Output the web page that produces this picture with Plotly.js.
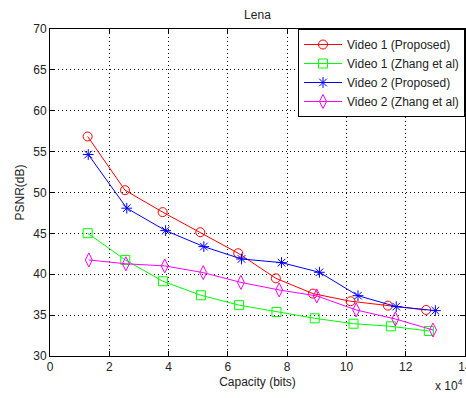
<!DOCTYPE html>
<html>
<head>
<meta charset="utf-8">
<script src="https://cdn.plot.ly/plotly-3.0.1.min.js"></script>
<style>html,body{margin:0;padding:0;background:#fff;}#chart{width:466px;height:398px;}</style>
</head>
<body>
<div id="chart"></div>
<script>
// Capacity in units of 10^4 bits, PSNR in dB
const v1PropX = [1.27, 2.53, 3.80, 5.07, 6.35, 7.62, 8.87, 10.14, 11.40, 12.69];
const v1PropY = [56.85, 50.28, 47.6, 45.14, 42.57, 39.5, 37.63, 36.7, 36.16, 35.63];
const v1ZhangX = [1.27, 2.54, 3.81, 5.09, 6.38, 7.64, 8.93, 10.24, 11.50, 12.78];
const v1ZhangY = [45.02, 41.75, 39.14, 37.43, 36.22, 35.38, 34.61, 33.95, 33.63, 33.06];
const v2PropX = [1.29, 2.59, 3.90, 5.19, 6.46, 7.81, 9.09, 10.39, 11.68, 13.00];
const v2PropY = [54.65, 48.08, 45.34, 43.38, 41.87, 41.42, 40.24, 37.38, 36.04, 35.55];
const v2ZhangX = [1.31, 2.56, 3.87, 5.17, 6.44, 7.73, 9.00, 10.33, 11.65, 12.92];
const v2ZhangY = [41.75, 41.28, 41.02, 40.2, 39.0, 38.08, 37.35, 35.63, 34.53, 33.18];
const seriesNames = ['Video 1 (Proposed)', 'Video 1 (Zhang et al)', 'Video 2 (Proposed)', 'Video 2 (Zhang et al)'];
const xTicks = [0, 2, 4, 6, 8, 10, 12, 14];
const yTicks = [30, 35, 40, 45, 50, 55, 60, 65, 70];

const font = 'Liberation Sans, Arial, sans-serif';
function tr(x, y, name, color, symbol, size) {
  return {
    x: x, y: y, name: name, type: 'scatter', mode: 'lines+markers',
    line: {color: color, width: 1},
    marker: {symbol: symbol, size: size, color: color, line: {color: color, width: 1}}
  };
}
const data = [
  tr(v1PropX, v1PropY, seriesNames[0], '#ff0000', 'circle-open', 9),
  tr(v1ZhangX, v1ZhangY, seriesNames[1], '#00ff00', 'square-open', 9),
  tr(v2PropX, v2PropY, seriesNames[2], '#0000ff', 'asterisk-open', 9),
  tr(v2ZhangX, v2ZhangY, seriesNames[3], '#ff00ff', 'diamond-tall-open', 10)
];
const axisCommon = {
  showline: true, linecolor: '#000', linewidth: 1, mirror: 'ticks',
  ticks: 'inside', ticklen: 5, tickcolor: '#000', tickwidth: 1,
  showgrid: true, gridcolor: '#000', gridwidth: 1, griddash: '1px,3px',
  zeroline: false, automargin: true, ticklabeloverflow: 'allow',
  tickfont: {family: font, size: 12, color: '#222'}
};
const layout = {
  width: 466, height: 398,
  margin: {l: 50, r: 1, t: 29, b: 42, autoexpand: false},
  paper_bgcolor: '#fff', plot_bgcolor: '#fff',
  font: {family: font, size: 12, color: '#222'},
  title: {text: 'Lena', x: 0.5525, xanchor: 'center', y: 0.962, yanchor: 'middle', font: {family: font, size: 12, color: '#222'}},
  xaxis: Object.assign({}, axisCommon, {
    range: [0, 14], tickvals: xTicks, ticktext: xTicks.map(String),
    title: {text: 'Capacity (bits)', font: {family: font, size: 12, color: '#222'}, standoff: 4}
  }),
  yaxis: Object.assign({}, axisCommon, {
    range: [30, 70], tickvals: yTicks, ticktext: yTicks.map(String),
    title: {text: 'PSNR(dB)', font: {family: font, size: 12, color: '#222'}, standoff: 6}
  }),
  legend: {
    x: 1, y: 1, xanchor: 'right', yanchor: 'top',
    bgcolor: '#fff', bordercolor: '#000', borderwidth: 1,
    font: {family: font, size: 12, color: '#222'},
    tracegroupgap: 0, itemwidth: 38
  },
  annotations: [{
    text: 'x 10<sup>4</sup>', xref: 'paper', yref: 'paper', x: 0.961, y: -0.058,
    xanchor: 'center', yanchor: 'top', showarrow: false, font: {family: font, size: 12, color: '#222'}
  }],
  showlegend: true
};
Plotly.newPlot('chart', data, layout, {displayModeBar: false, staticPlot: true});
</script>
</body>
</html>
